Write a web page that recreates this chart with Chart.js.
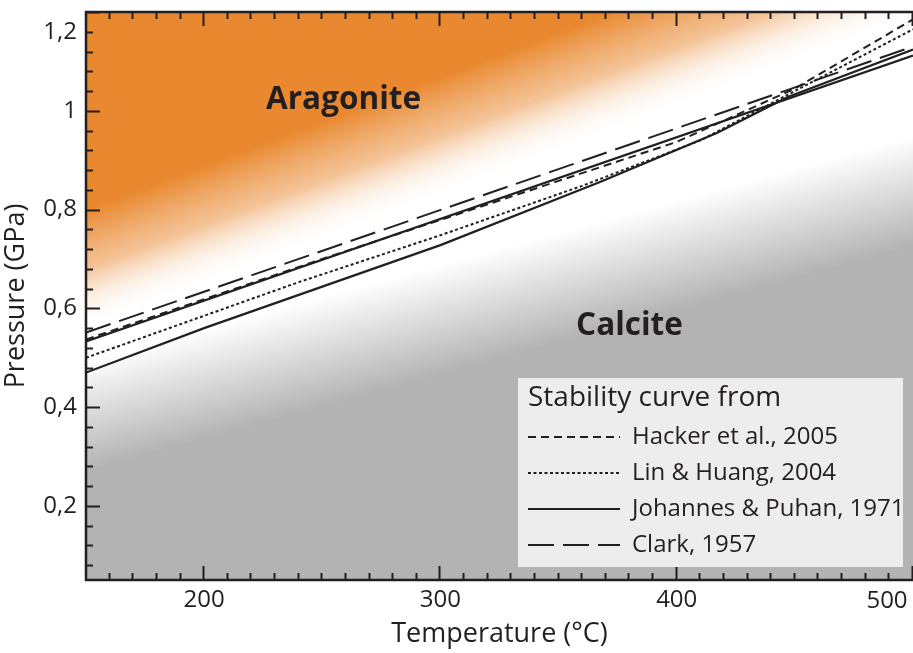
<!DOCTYPE html>
<html>
<head>
<meta charset="utf-8">
<script src="https://cdn.jsdelivr.net/npm/chart.js@4.4.1/dist/chart.umd.min.js"></script>
<style>
  html, body { margin: 0; padding: 0; background: #fff; }
  canvas { display: block; }
</style>
</head>
<body>
<canvas id="phase" width="913" height="653"></canvas>
<script>
// Calcite / aragonite stability curves, temperature (°C) vs pressure (GPa)
const hackerT = [150, 250, 350, 400, 450, 500];
const hackerP = [0.537, 0.70, 0.858, 0.937, 1.045, 1.185];
const linT = [150, 240, 300, 360, 410, 450, 500];
const linP = [0.50, 0.653, 0.748, 0.848, 0.94, 1.04, 1.165];
const johannesT = [150, 500];
const johannesP = [0.533, 1.112];
const johannesLowT = [150, 200, 300, 367, 417, 447, 500];
const johannesLowP = [0.47, 0.56, 0.728, 0.855, 0.955, 1.028, 1.124];
const clarkT = [150, 500];
const clarkP = [0.551, 1.13];

const xTicks = [200, 300, 400, 500];
const yTicks = [0.2, 0.4, 0.6, 0.8, 1.0, 1.2];

const INK = '#231f20';
const FONT = "'Open Sans', 'Noto Sans', sans-serif";

const pts = (xs, ys) => xs.map((x, i) => ({ x: x, y: ys[i] }));
const fmtP = v => String(Math.round(v * 10) / 10).replace('.', ',');

function curve(label, xs, ys, dash, legend) {
  return {
    label: label,
    data: pts(xs, ys),
    borderColor: INK,
    borderWidth: dash.length ? 2 : 2.2,
    borderDash: dash,
    pointRadius: 0,
    tension: 0,
    inLegend: legend
  };
}

// shaded band across the plot: colour stops from p0 to p1 (pressures on the left edge),
// running parallel to lines of slope dP/dT = rise
function band(chart, rise, p0, p1, stops) {
  const { ctx, chartArea: a, scales: { x, y } } = chart;
  const y0 = y.getPixelForValue(p0), y1 = y.getPixelForValue(p1);
  const s = (y.getPixelForValue(0) - y.getPixelForValue(rise)) / (x.getPixelForValue(1) - x.getPixelForValue(0));
  const d = y1 - y0, k = 1 + s * s;
  const g = ctx.createLinearGradient(a.left, y0, a.left + s * d / k, y0 + d / k);
  stops.forEach(([o, c]) => g.addColorStop(o, c));
  ctx.fillStyle = g;
  ctx.fillRect(a.left, a.top, a.width, a.height);
}

const backdrop = {
  id: 'backdrop',
  beforeDatasetsDraw(chart) {
    const { ctx, chartArea: a } = chart;
    ctx.save();
    ctx.beginPath();
    ctx.rect(a.left, a.top, a.width, a.height);
    ctx.clip();
    ctx.fillStyle = '#ffffff';
    ctx.fillRect(a.left, a.top, a.width, a.height);
    band(chart, 0.0018, 0.80, 0.555, [
      [0, 'rgba(233,136,46,1)'], [0.5, 'rgba(240,176,118,0.75)'], [1, 'rgba(255,255,255,0)']
    ]);
    band(chart, 0.0013, 0.494, 0.27, [
      [0, 'rgba(179,179,179,0)'], [1, 'rgba(179,179,179,1)']
    ]);
    ctx.restore();

    // region names
    ctx.save();
    ctx.fillStyle = INK;
    ctx.font = 'bold 31.5px ' + FONT;
    ctx.textAlign = 'center';
    ctx.textBaseline = 'middle';
    const { x, y } = chart.scales;
    ctx.fillText('Aragonite', x.getPixelForValue(259), y.getPixelForValue(1.022));
    ctx.fillText('Calcite', x.getPixelForValue(380), y.getPixelForValue(0.565));
    ctx.restore();
  }
};

// frame, inward tick marks, shifted end labels and the legend box
const frame = {
  id: 'frame',
  afterDatasetsDraw(chart) {
    const { ctx, chartArea: a, scales: { x, y } } = chart;
    ctx.save();
    ctx.strokeStyle = INK;
    ctx.lineWidth = 2;
    for (let t = 160; t <= 500; t += 10) {
      const px = Math.round(x.getPixelForValue(t)) - 0.5;
      const len = t % 100 === 0 ? 14 : 7;
      ctx.beginPath();
      ctx.moveTo(px, a.bottom); ctx.lineTo(px, a.bottom - len);
      ctx.moveTo(px, a.top); ctx.lineTo(px, a.top + len);
      ctx.stroke();
    }
    for (let i = 2; i <= 30; i++) {
      const p = i * 0.04;
      const py = Math.round(y.getPixelForValue(p)) + 0.5;
      const len = i % 5 === 0 ? 14 : 7;
      ctx.beginPath();
      ctx.moveTo(a.left, py); ctx.lineTo(a.left + len, py);
      ctx.stroke();
    }
    ctx.lineWidth = 2.5;
    ctx.beginPath();
    ctx.moveTo(a.right, a.top); ctx.lineTo(a.left, a.top);
    ctx.lineTo(a.left, a.bottom); ctx.lineTo(a.right, a.bottom);
    ctx.stroke();

    // end labels pulled inside the canvas
    ctx.fillStyle = INK;
    ctx.font = '24px ' + FONT;
    ctx.textBaseline = 'middle';
    ctx.textAlign = 'right';
    ctx.fillText(fmtP(1.2), a.left - 9, y.getPixelForValue(1.16));
    ctx.textAlign = 'center';
    ctx.fillText('500', x.getPixelForValue(489), a.bottom + 21);

    // legend
    const bx = a.right - 395, by = a.bottom - 202;
    ctx.fillStyle = '#ededed';
    ctx.fillRect(bx, by, 385, 189);
    ctx.fillStyle = INK;
    ctx.textAlign = 'left';
    ctx.font = '28px ' + FONT;
    ctx.fillText('Stability curve from', bx + 10, by + 20);
    ctx.font = '24px ' + FONT;
    const shown = chart.data.datasets.filter(d => d.inLegend);
    shown.forEach((d, i) => {
      const ly = by + 59 + i * 36;
      ctx.save();
      ctx.strokeStyle = d.borderColor;
      ctx.lineWidth = d.borderWidth;
      ctx.setLineDash(d.borderDash);
      ctx.beginPath();
      ctx.moveTo(bx + 10, ly); ctx.lineTo(bx + 102, ly);
      ctx.stroke();
      ctx.restore();
      ctx.fillText(d.label, bx + 114, ly);
    });
    ctx.restore();
  }
};

new Chart(document.getElementById('phase'), {
  type: 'line',
  data: {
    datasets: [
      curve('Hacker et al., 2005', hackerT, hackerP, [8, 5], true),
      curve('Lin & Huang, 2004', linT, linP, [3, 2.5], true),
      curve('Johannes & Puhan, 1971', johannesT, johannesP, [], true),
      curve('Johannes & Puhan, 1971', johannesLowT, johannesLowP, [], false),
      curve('Clark, 1957', clarkT, clarkP, [26, 9], true)
    ]
  },
  options: {
    responsive: false,
    animation: false,
    devicePixelRatio: 1,
    layout: { padding: { top: 12, right: 0, left: 0, bottom: 0 } },
    plugins: { legend: { display: false }, tooltip: { enabled: false } },
    scales: {
      x: {
        type: 'linear',
        min: 150,
        max: 500,
        grid: { display: false, drawTicks: false },
        border: { display: false },
        afterBuildTicks: s => { s.ticks = xTicks.map(v => ({ value: v })); },
        afterFit: s => { s.height = 73; s.paddingLeft = 0; s.paddingRight = 0; },
        ticks: {
          color: INK,
          font: { family: FONT, size: 24 },
          padding: 6,
          maxRotation: 0,
          callback: v => (v === 500 ? '' : String(v))
        },
        title: {
          display: true,
          text: 'Temperature (°C)',
          color: INK,
          font: { family: FONT, size: 27 },
          padding: { top: 0, bottom: 2 }
        }
      },
      y: {
        type: 'linear',
        min: 0.05,
        max: 1.2,
        grid: { display: false, drawTicks: false },
        border: { display: false },
        afterBuildTicks: s => { s.ticks = yTicks.map(v => ({ value: v })); },
        afterFit: s => { s.width = 86; s.paddingTop = 0; s.paddingBottom = 0; },
        ticks: {
          color: INK,
          font: { family: FONT, size: 24 },
          padding: 9,
          callback: v => (Math.abs(v - 1.2) < 1e-6 ? '' : fmtP(v))
        },
        title: {
          display: true,
          text: 'Pressure (GPa)',
          color: INK,
          font: { family: FONT, size: 27 },
          padding: { top: 0, bottom: 0 }
        }
      }
    }
  },
  plugins: [backdrop, frame]
});
</script>
</body>
</html>
